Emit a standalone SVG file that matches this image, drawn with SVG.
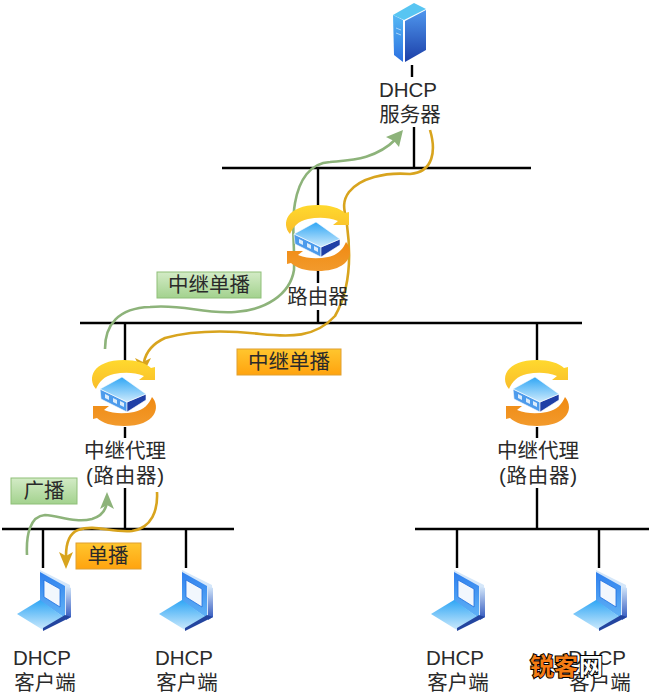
<svg xmlns="http://www.w3.org/2000/svg" xmlns:xlink="http://www.w3.org/1999/xlink" width="650" height="696" viewBox="0 0 650 696">
<style>
text{font-family:"Liberation Sans","Noto Sans CJK SC",sans-serif;font-size:20.5px;fill:#2a2a2a}
.m{text-anchor:middle}
.bus{stroke:#000;stroke-width:2.4;fill:none}
.g{stroke:#8db37a;stroke-width:2.6;fill:none}
.y{stroke:#d8a41e;stroke-width:2.6;fill:none}
.gh{fill:#8db37a}
.yh{fill:#d8a41e}
.wm{font-size:24px;font-weight:bold;stroke:#000;stroke-width:2;paint-order:stroke}
</style>
<defs>
<linearGradient id="lb" x1="0" y1="0" x2="0" y2="1"><stop offset="0" stop-color="#2fa6f5"/><stop offset="1" stop-color="#cdeafc"/></linearGradient>
<linearGradient id="sd" x1="0" y1="0" x2="0" y2="1"><stop offset="0" stop-color="#4f97ee"/><stop offset="1" stop-color="#1c3fa8"/></linearGradient>
<linearGradient id="sf" x1="0" y1="0" x2="0" y2="1"><stop offset="0" stop-color="#55b8f5"/><stop offset="1" stop-color="#2b6fe0"/></linearGradient>
<linearGradient id="sc" x1="0" y1="0" x2="0" y2="1"><stop offset="0" stop-color="#2f80ee"/><stop offset="1" stop-color="#62b4f6"/></linearGradient>
<linearGradient id="ed" x1="0" y1="0" x2="0" y2="1"><stop offset="0" stop-color="#d6e9fb"/><stop offset="1" stop-color="#2b52bc"/></linearGradient>
<linearGradient id="ya" x1="0" y1="0" x2="0" y2="1"><stop offset="0" stop-color="#ffd92e"/><stop offset="1" stop-color="#f9bd2a"/></linearGradient>
<linearGradient id="oa" x1="0" y1="1" x2="0" y2="0"><stop offset="0" stop-color="#f08a12"/><stop offset="1" stop-color="#f29a2c"/></linearGradient>
<linearGradient id="gl" x1="0" y1="0" x2="0" y2="1"><stop offset="0" stop-color="#d3ebc6"/><stop offset="1" stop-color="#a3d28e"/></linearGradient>
<linearGradient id="ol" x1="0" y1="0" x2="0" y2="1"><stop offset="0" stop-color="#ffc62e"/><stop offset="1" stop-color="#ffa30f"/></linearGradient>
<path id="arc" d="M-28,-4C-37,-14-32,-33 0,-33C12,-33 22,-30 27,-25L31,-26L31,-13L15,-13L20,-17C10,-21 0,-21-10,-19C-20,-17-25,-11-28,-4Z"/>
<g id="router">
<use xlink:href="#arc" href="#arc" fill="url(#ya)"/>
<use xlink:href="#arc" href="#arc" fill="url(#oa)" transform="rotate(180)"/>
<path d="M-24,-4L3,9L3,19L-23,6Z" fill="#4d9bec" stroke="#fff" stroke-width=".6"/>
<path d="M3,9L22,1L22,7L3,19Z" fill="#1f3fa6" stroke="#fff" stroke-width=".6"/>
<path d="M-2,-16L22,1L3,9L-24,-4Z" fill="url(#lb)" stroke="#fff" stroke-width=".6"/>
<path d="M-19,1l4,2v4l-4,-2zM-11,5l4,2v4l-4,-2zM-4,8l4,2v4l-4,-2z" fill="#dcecfb"/>
</g>
<g id="laptop">
<path d="M40,570L70,585L71,617L43,630L65,616L65,590L40,577Z" fill="#d5e7fa"/>
<path d="M40,572L65,586L65,618L40,601Z" fill="url(#sc)"/>
<path d="M66,586L71,588L71,617L66,620Z" fill="url(#ed)"/>
<path d="M44,580L60,589L60,607L44,597Z" fill="#f2f7fd" stroke="#1f6fe0" stroke-width=".8"/>
<path d="M17,614L40,600L65,618L43,630Z" fill="url(#lb)"/>
<path d="M43,631L71,617L65,615L43,628Z" fill="#23459f"/>
</g>
</defs>
<g id="connectors">
<path class="bus" d="M222,168H531M318,168V210M318,270V283M318,310V323M80,323H582M125,323V362M125,427V438M125,488V529M537,323V362M537,427V438M537,488V529M2,529H234M43,529V568M186,529V568M415,529H649M457,529V568M599,529V568M412,65V77M414,127V168"/>
<path class="g" d="M105,349C105,325 118,308 150,307C185,304 200,314 235,312C265,310 290,295 294,270C295,245 291,225 295,203C299,180 310,163 330,162C350,160 375,160 396,139"/>
<polygon class="gh" points="403,130 399,147 394,141 386,137"/>
<path class="y" d="M430,130C436,150 434,172 410,174C385,172 360,178 349,192C340,204 346,214 347,225C351,255 350,290 335,316C315,338 290,337 260,334C225,330 195,330 165,338C152,344 146,352 144,362"/>
<polygon class="yh" points="143,374 135,358 143,362 151,358"/>
<path class="g" d="M27,555C26,535 30,516 45,515C60,516 75,523 92,519C102,516 106,510 107,502"/>
<polygon class="gh" points="107,492 114,509 107,505 100,509"/>
<path class="y" d="M157,492C158,510 152,528 132,531C112,533 95,524 78,530C68,534 66,545 66,556"/>
<polygon class="yh" points="66,569 59,552 66,556 73,552"/>
</g>
<g id="server">
<path d="M414,3L426,9L404,20L393,15Z" fill="#58c5f2"/>
<path d="M393,15L403,20V62L394,55Z" fill="url(#sf)"/>
<path d="M405,21L426,10V50L405,62Z" fill="url(#sd)"/>
<path d="M396,28l5,2M396,33l5,2" stroke="#a9d4f8" stroke-width="1" fill="none"/>
<text x="408" y="97" class="m">DHCP</text>
<text x="410" y="122" class="m">服务器</text>
</g>
<g id="router-top"><use xlink:href="#router" href="#router" x="318" y="238"/><text x="318" y="304" class="m">路由器</text></g>
<g id="relay-left"><use xlink:href="#router" href="#router" x="124" y="393"/><text x="125" y="458" class="m">中继代理</text><text x="125" y="483" class="m" textLength="78">(路由器)</text></g>
<g id="relay-right"><use xlink:href="#router" href="#router" x="537" y="393"/><text x="538" y="458" class="m">中继代理</text><text x="538" y="483" class="m" textLength="78">(路由器)</text></g>
<g id="client-1"><use xlink:href="#laptop" href="#laptop"/><text x="42" y="665" class="m">DHCP</text><text x="45" y="690" class="m">客户端</text></g>
<g id="client-2"><use xlink:href="#laptop" href="#laptop" x="142"/><text x="184" y="665" class="m">DHCP</text><text x="187" y="690" class="m">客户端</text></g>
<g id="client-3"><use xlink:href="#laptop" href="#laptop" x="414"/><text x="455" y="665" class="m">DHCP</text><text x="458" y="690" class="m">客户端</text></g>
<g id="client-4"><use xlink:href="#laptop" href="#laptop" x="556"/><text x="597" y="665" class="m">DHCP</text><text x="600" y="690" class="m">客户端</text></g>
<g id="label-relay-green"><rect x="157" y="272" width="104" height="26" fill="url(#gl)" stroke="#8fbf78"/><text x="209" y="292" class="m">中继单播</text></g>
<g id="label-relay-orange"><rect x="237" y="349" width="104" height="26" fill="url(#ol)" stroke="#e0a030"/><text x="289" y="369" class="m">中继单播</text></g>
<g id="label-broadcast"><rect x="11" y="478" width="66" height="26" fill="url(#gl)" stroke="#8fbf78"/><text x="44" y="498" class="m">广播</text></g>
<g id="label-unicast"><rect x="76" y="543" width="65" height="26" fill="url(#ol)" stroke="#e0a030"/><text x="108" y="563" class="m">单播</text></g>
<g id="watermark"><text x="530" y="675" class="wm" style="fill:#f57c14">锐客</text><text x="579" y="675" class="wm" style="fill:#fff">网</text></g>
</svg>
